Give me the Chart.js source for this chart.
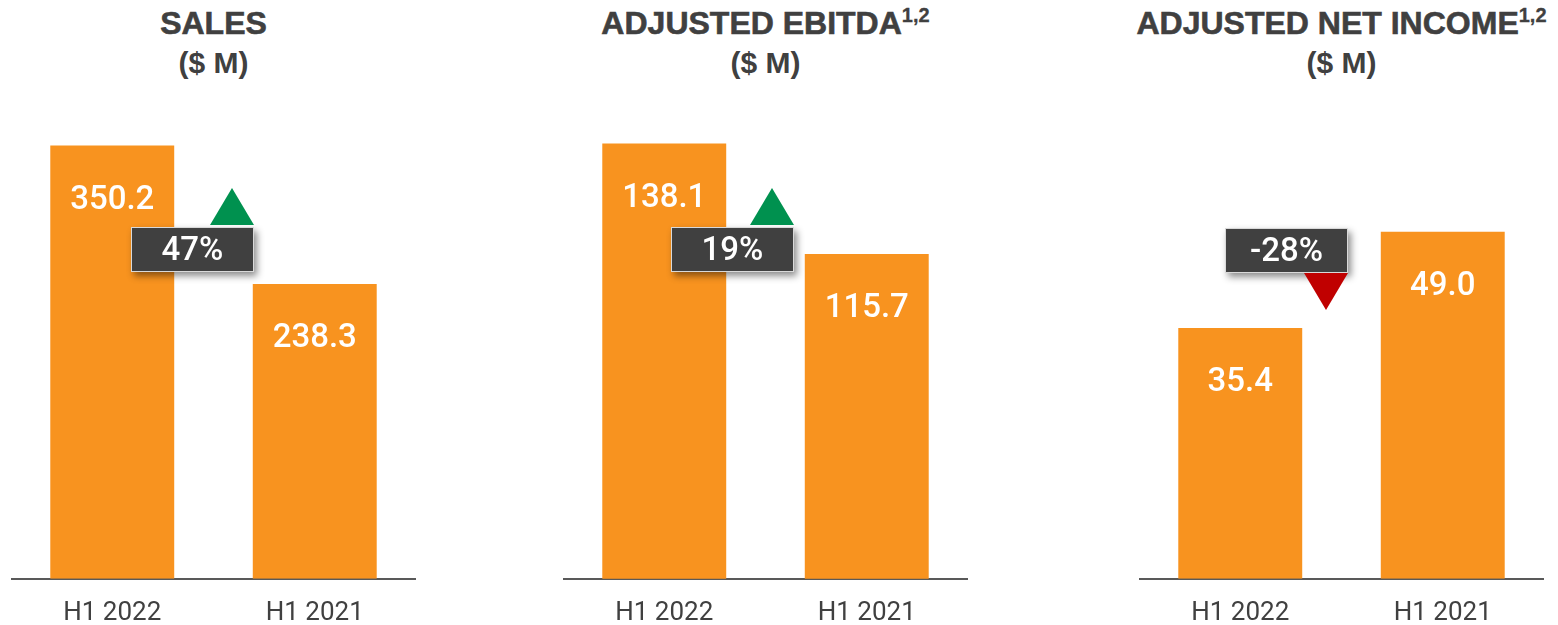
<!DOCTYPE html>
<html>
<head>
<meta charset="utf-8">
<script src="https://cdn.jsdelivr.net/npm/chart.js@4"></script>
<style>
  body { margin: 0; background: #fff; width: 1558px; height: 625px; overflow: hidden; position: relative; }
  .panel { position: absolute; top: 0; width: 405px; height: 625px; }
  .title { position: absolute; left: -40px; right: -40px; top: 7px; text-align: center;
           font: bold 32px "Liberation Sans", Arial, sans-serif; line-height: 1; color: #404040; white-space: nowrap;
           -webkit-text-stroke: 0.6px #404040; }
  .title span { font-size: 20px; position: relative; top: -12px; -webkit-text-stroke: 0.3px #404040; }
  .unit { position: absolute; left: 0; right: 0; top: 48px; text-align: center;
          font: bold 30px "Liberation Sans", Arial, sans-serif; line-height: 1; color: #404040; }
  .box { position: absolute; left: 0; top: 90px; width: 405px; height: 558px; }
</style>
</head>
<body>
<div class="panel" style="left:11px">
  <div class="title">SALES</div>
  <div class="unit">($ M)</div>
  <div class="box"><canvas id="sales"></canvas></div>
</div>
<div class="panel" style="left:563px">
  <div class="title">ADJUSTED EBITDA<span>1,2</span></div>
  <div class="unit">($ M)</div>
  <div class="box"><canvas id="ebitda"></canvas></div>
</div>
<div class="panel" style="left:1139px">
  <div class="title">ADJUSTED NET INCOME<span>1,2</span></div>
  <div class="unit">($ M)</div>
  <div class="box"><canvas id="netincome"></canvas></div>
</div>
<script>
// data
var categories = ['H1 2022', 'H1 2021'];
var salesValues = [350.2, 238.3];
var ebitdaValues = [138.1, 115.7];
var netIncomeValues = [35.4, 49.0];
var changeLabels = ['47%', '19%', '-28%'];

var ORANGE = '#F8931F';

// white value labels inside the bars
var valueLabels = {
  id: 'valueLabels',
  afterDatasetsDraw: function(chart) {
    var ctx = chart.ctx;
    var meta = chart.getDatasetMeta(0);
    ctx.save();
    ctx.fillStyle = '#fff';
    ctx.font = '500 33px Roboto, sans-serif';
    ctx.textAlign = 'center';
    ctx.textBaseline = 'middle';
    meta.data.forEach(function(bar, i) {
      var v = chart.data.datasets[0].data[i];
      ctx.fillText(v.toFixed(1), bar.x, bar.y + 55);
    });
    ctx.restore();
  }
};

// growth badge with arrow
var badge = {
  id: 'badge',
  afterDraw: function(chart, args, opts) {
    var ctx = chart.ctx;
    var x = opts.x, y = opts.y, w = 123, h = 45;
    ctx.save();
    ctx.shadowColor = 'rgba(0,0,0,0.45)';
    ctx.shadowBlur = 7;
    ctx.shadowOffsetX = 3;
    ctx.shadowOffsetY = 4;
    ctx.fillStyle = '#404040';
    ctx.fillRect(x, y, w, h);
    ctx.restore();

    ctx.save();
    ctx.strokeStyle = '#d9d9d9';
    ctx.lineWidth = 1;
    ctx.strokeRect(x + 0.5, y + 0.5, w - 1, h - 1);
    ctx.fillStyle = '#fff';
    ctx.font = '500 33px Roboto, sans-serif';
    ctx.textAlign = 'center';
    ctx.textBaseline = 'middle';
    ctx.fillText(opts.text, x + w / 2, y + h / 2 + 2);

    var tw = 44, th = 37, right = x + w;
    ctx.beginPath();
    if (opts.up) {
      ctx.fillStyle = '#00914F';
      ctx.moveTo(right - tw, y - 2);
      ctx.lineTo(right, y - 2);
      ctx.lineTo(right - tw / 2, y - 2 - th);
    } else {
      ctx.fillStyle = '#C00000';
      ctx.moveTo(right - tw, y + h);
      ctx.lineTo(right, y + h);
      ctx.lineTo(right - tw / 2, y + h + th);
    }
    ctx.closePath();
    ctx.fill();
    ctx.restore();
  }
};

function makeChart(id, values, yMin, yMax, badgeOpts) {
  return new Chart(document.getElementById(id), {
    type: 'bar',
    data: {
      labels: categories,
      datasets: [{
        data: values,
        backgroundColor: ORANGE,
        borderWidth: 0,
        barPercentage: 0.612,
        categoryPercentage: 1
      }]
    },
    options: {
      responsive: true,
      maintainAspectRatio: false,
      animation: false,
      devicePixelRatio: 1,
      layout: { padding: 0 },
      plugins: {
        legend: { display: false },
        tooltip: { enabled: false },
        badge: badgeOpts
      },
      scales: {
        x: {
          z: 1,
          grid: { display: false, drawTicks: false },
          border: { display: true, color: '#595959', width: 2 },
          ticks: { color: '#404040', padding: 19, font: { family: 'Roboto', size: 26, weight: '400' } }
        },
        y: { display: false, min: yMin, max: yMax }
      }
    },
    plugins: [valueLabels, badge]
  });
}

makeChart('sales', salesValues, 0, 395.1, { text: changeLabels[0], up: true, x: 120, y: 137 });
makeChart('ebitda', ebitdaValues, 50, 148.9, { text: changeLabels[1], up: true, x: 108, y: 137 });
makeChart('netincome', netIncomeValues, 0, 69.0, { text: changeLabels[2], up: false, x: 86, y: 138 });
</script>
</body>
</html>
